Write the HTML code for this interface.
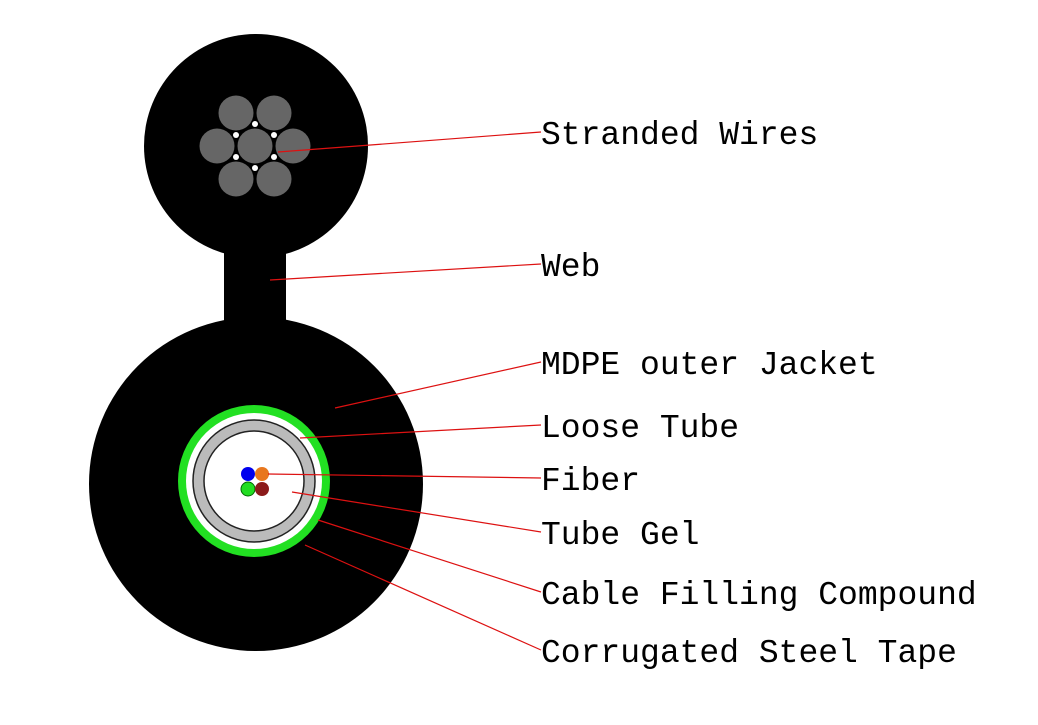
<!DOCTYPE html>
<html><head><style>body{margin:0;background:#fff}</style></head><body>
<svg width="1038" height="720" xmlns="http://www.w3.org/2000/svg">
<rect width="1038" height="720" fill="#fff"/>
<circle cx="256" cy="146" r="112" fill="#000"/>
<rect x="224" y="240" width="62" height="100" fill="#000"/>
<circle cx="256" cy="484" r="167" fill="#000"/>
<g fill="#666">
<circle cx="255" cy="146" r="17.5"/>
<circle cx="236" cy="113" r="17.5"/>
<circle cx="274" cy="113" r="17.5"/>
<circle cx="217" cy="146" r="17.5"/>
<circle cx="293" cy="146" r="17.5"/>
<circle cx="236" cy="179" r="17.5"/>
<circle cx="274" cy="179" r="17.5"/>
</g>
<g fill="#fff">
<circle cx="255" cy="124" r="3"/><circle cx="255" cy="168" r="3"/>
<circle cx="236" cy="135" r="3"/><circle cx="274" cy="135" r="3"/>
<circle cx="236" cy="157" r="3"/><circle cx="274" cy="157" r="3"/>
</g>
<circle cx="254" cy="481" r="76" fill="#22e022"/>
<circle cx="254" cy="481" r="68" fill="#fff"/>
<circle cx="254" cy="481" r="61" fill="#bbb" stroke="#222" stroke-width="1.5"/>
<circle cx="254" cy="481" r="50" fill="#fff" stroke="#222" stroke-width="1.5"/>
<circle cx="248" cy="474" r="7" fill="#0000ee"/>
<circle cx="262" cy="474" r="7" fill="#e8771e"/>
<circle cx="248" cy="489" r="7" fill="#22dd22" stroke="#060" stroke-width="1"/>
<circle cx="262" cy="489" r="7" fill="#8b1a1a"/>
<g stroke="#d11" stroke-width="1.2">
<line x1="278" y1="152" x2="541" y2="132"/>
<line x1="270" y1="280" x2="541" y2="264"/>
<line x1="335" y1="408" x2="541" y2="362"/>
<line x1="300" y1="438" x2="541" y2="425"/>
<line x1="268" y1="474" x2="541" y2="478"/>
<line x1="292" y1="492" x2="541" y2="532"/>
<line x1="318" y1="520" x2="541" y2="592"/>
<line x1="305" y1="545" x2="541" y2="650"/>
</g>
<g font-family="Liberation Mono, monospace" font-size="33" fill="#000">
<text x="541" y="144">Stranded Wires</text>
<text x="541" y="276">Web</text>
<text x="541" y="374">MDPE outer Jacket</text>
<text x="541" y="437">Loose Tube</text>
<text x="541" y="490">Fiber</text>
<text x="541" y="544">Tube Gel</text>
<text x="541" y="604">Cable Filling Compound</text>
<text x="541" y="662">Corrugated Steel Tape</text>
</g>
</svg>
</body></html>
